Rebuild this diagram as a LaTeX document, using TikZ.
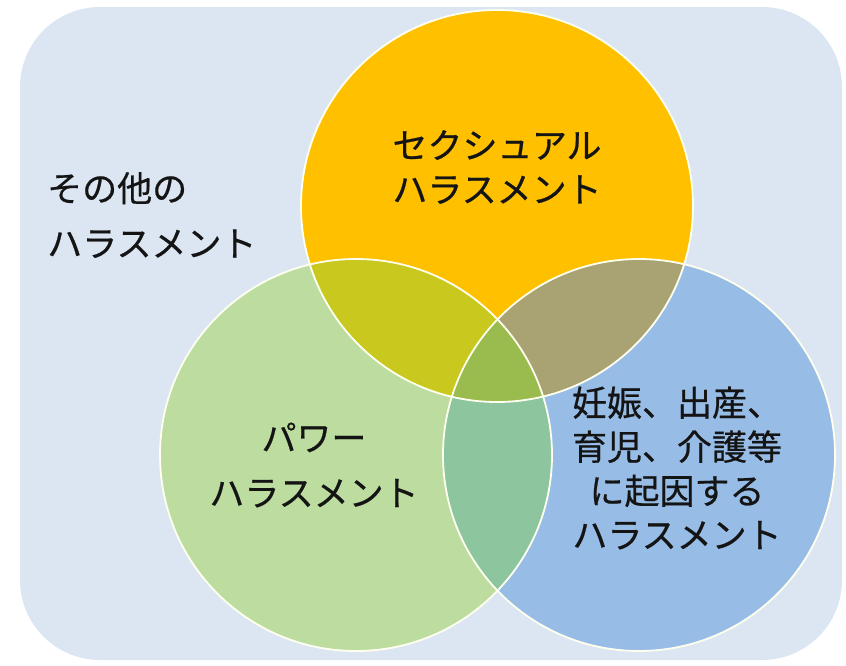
\documentclass[tikz,border=0pt]{standalone}
\usepackage{fontspec}
\setmainfont{Noto Sans CJK JP}[FakeBold=0.6]
\definecolor{bgblue}{HTML}{DCE6F2}
\definecolor{cor}{HTML}{FFC000}
\definecolor{cgr}{HTML}{BCDCA0}
\definecolor{cbl}{HTML}{97BDE6}
\definecolor{cog}{HTML}{C8C81E}
\definecolor{cob}{HTML}{A9A373}
\definecolor{cgb}{HTML}{8CC59E}
\definecolor{call}{HTML}{9ABB4E}
\definecolor{ctxt}{HTML}{141414}
\definecolor{cline}{HTML}{FFFFF0}
\tikzset{
  setcirc/.style={circle, minimum size=392pt, inner sep=0pt, draw=cline, line width=1.8pt},
  lbl/.style={text=ctxt, font=\fontsize{35pt}{44pt}\selectfont, align=center, inner sep=0pt},
}
\begin{document}
\begin{tikzpicture}[x=1pt,y=-1pt]
\useasboundingbox (0,0) rectangle (846,665);
\fill[bgblue, rounded corners=80pt] (20,7) rectangle (842,660);
% fills
\fill[cor] (497,206) circle[radius=196pt];
\fill[cgr] (356,455) circle[radius=196pt];
\fill[cbl] (639,455) circle[radius=196pt];
\begin{scope}
  \clip (497,206) circle[radius=196pt];
  \fill[cog] (356,455) circle[radius=196pt];
  \fill[cob] (639,455) circle[radius=196pt];
\end{scope}
\begin{scope}
  \clip (356,455) circle[radius=196pt];
  \fill[cgb] (639,455) circle[radius=196pt];
  \clip (639,455) circle[radius=196pt];
  \fill[call] (497,206) circle[radius=196pt];
\end{scope}
% outlines as named nodes
\node[setcirc] (sexual) at (497,206) {};
\node[setcirc] (power) at (356,455) {};
\node[setcirc] (mat) at (639,455) {};
% labels
\node[lbl] (tsexual) at (497,167) {セクシュアル\\ハラスメント};
\node[lbl, font=\fontsize{35pt}{55pt}\selectfont] (tpower) at (314,465) {パワー\\ハラスメント};
\node[lbl] (tmat) at (677,468) {妊娠、出産、\\育児、介護等\\に起因する\\ハラスメント};
\node[lbl, align=left, anchor=west, font=\fontsize{35pt}{55pt}\selectfont] (tother) at (47,215) {その他の\\ハラスメント};
\end{tikzpicture}
\end{document}
